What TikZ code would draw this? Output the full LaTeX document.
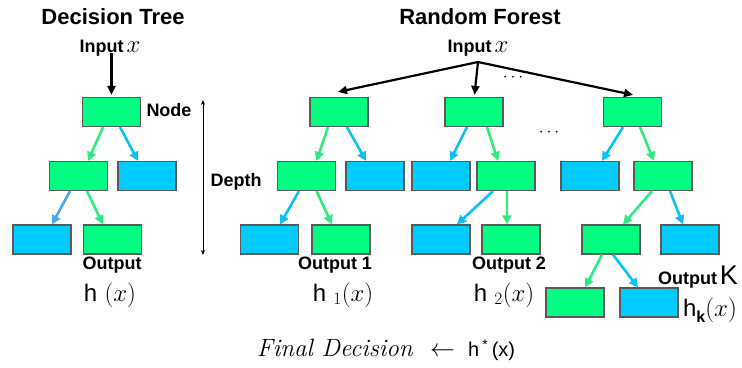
\documentclass[tikz,border=0pt]{standalone}
\usepackage{fontspec}
\setsansfont{Liberation Sans}
\usepackage{tikz}
\usetikzlibrary{arrows.meta,calc}
\definecolor{leafgreen}{HTML}{00FF80}
\definecolor{leafblue}{HTML}{00CCFF}
\definecolor{edgegreen}{HTML}{2EEB7E}
\definecolor{edgeblue}{HTML}{0AC0F5}
\definecolor{edgesky}{HTML}{4DA8F0}
\definecolor{boxline}{HTML}{5A5A5A}
\tikzset{
  gbox/.style={draw=boxline,fill=leafgreen,line width=1.2pt,minimum width=58pt,minimum height=29pt,inner sep=0pt},
  bbox/.style={gbox,fill=leafblue},
  gedge/.style={edgegreen,line width=2.6pt,-{Triangle[length=9pt,width=9pt]}},
  bedge/.style={gedge,edgeblue},
  sedge/.style={gedge,edgesky},
  kedge/.style={black,line width=2.2pt,-{Triangle[length=9pt,width=8pt]}},
  lbl/.style={font=\fontsize{18}{20}\selectfont\sffamily\bfseries,inner sep=1pt},
  hlbl/.style={font=\fontsize{24}{28}\selectfont,inner sep=1pt},
  ttl/.style={font=\fontsize{22}{26}\selectfont\sffamily\bfseries},
}

\begin{document}
\begin{tikzpicture}[x=1pt,y=-1pt]
  \useasboundingbox (0,0) rectangle (742,367);
  % titles and inputs
  \node[ttl] (dttitle) at (113,17) {Decision Tree};
  \node[ttl] (rftitle) at (480,17) {Random Forest};
  \node[lbl] (dtin) at (110,48) {Input\,{\fontsize{24}{26}\selectfont$x$}};
  \node[lbl] (rfin) at (478,48) {Input\,{\fontsize{24}{26}\selectfont$x$}};
  \coordinate (fork) at (478,62);

  % decision tree
  \node[gbox] (d0) at (111.5,112) {};
  \node[gbox] (d1) at (78.5,176) {};
  \node[bbox] (d2) at (147,176) {};
  \node[bbox] (d3) at (42,239.5) {};
  \node[gbox] (d4) at (112.5,239.5) {};
  \draw[kedge] ([yshift=4pt]dtin.south -| d0.north) -- ([yshift=2pt]d0.north);
  \draw[gedge] ([xshift=-8.5pt]d0.south) -- ([xshift=9.5pt]d1.north);
  \draw[bedge] ([xshift=8.5pt]d0.south) -- ([xshift=-9pt]d2.north);
  \draw[sedge] ([xshift=-8.5pt]d1.south) -- ([xshift=10pt]d3.north);
  \draw[gedge] ([xshift=8.5pt]d1.south) -- ([xshift=-9.5pt]d4.north);
  \node[lbl] (nodelbl) at (169,110) {Node};
  \coordinate (dtop) at (203,100);
  \coordinate (dbot) at (203,255);
  \draw[{Stealth[length=5pt,width=4pt]}-{Stealth[length=5pt,width=4pt]},line width=0.8pt] (dtop) -- (dbot);
  \node[lbl] (depth) at (236,182) {Depth};
  \node[lbl] (dtout) at (112,265) {Output};
  \node[hlbl] (dth) at (110,295) {{\sffamily h} $(x)$};

  % tree 1
  \node[gbox] (a0) at (339,112) {};
  \node[gbox] (a1) at (306.5,176) {};
  \node[bbox] (a2) at (375,176) {};
  \node[bbox] (a3) at (269.5,239.5) {};
  \node[gbox] (a4) at (341,239.5) {};
  \draw[gedge] ([xshift=-11pt]a0.south) -- ([xshift=10pt]a1.north);
  \draw[bedge] ([xshift=8pt]a0.south) -- ([xshift=-9pt]a2.north);
  \draw[bedge] ([xshift=-7.5pt]a1.south) -- ([xshift=10.5pt]a3.north);
  \draw[gedge] ([xshift=10pt]a1.south) -- ([xshift=-9pt]a4.north);
  \node[lbl] (out1) at (335,265) {Output 1};
  \node[hlbl] (h1) at (343,295) {{\sffamily h} ${}_1(x)$};

  % tree 2
  \node[gbox] (b0) at (474,112) {};
  \node[bbox] (b1) at (441,176) {};
  \node[gbox] (b2) at (506,176) {};
  \node[bbox] (b3) at (441,239.5) {};
  \node[gbox] (b4) at (511,239.5) {};
  \draw[bedge] ([xshift=-7pt]b0.south) -- ([xshift=9pt]b1.north);
  \draw[gedge] ([xshift=13pt]b0.south) -- ([xshift=-8pt]b2.north);
  \draw[bedge] ([xshift=-13pt]b2.south) -- ([xshift=16pt]b3.north);
  \draw[gedge] ([xshift=1pt]b2.south) -- ([xshift=-4pt]b4.north);
  \node[lbl] (out2) at (509,265) {Output 2};
  \node[hlbl] (h2) at (504,295) {{\sffamily h} ${}_2(x)$};

  % tree K
  \node[gbox] (k0) at (632.5,112) {};
  \node[bbox] (k1) at (590,176) {};
  \node[gbox] (k2) at (663,176) {};
  \node[gbox] (k3) at (611,239.5) {};
  \node[bbox] (k4) at (690,239.5) {};
  \node[gbox] (k5) at (575,302.5) {};
  \node[bbox] (k6) at (649,302.5) {};
  \draw[bedge] ([xshift=-9.5pt]k0.south) -- ([xshift=12pt]k1.north);
  \draw[gedge] ([xshift=7.5pt]k0.south) -- ([xshift=-9pt]k2.north);
  \draw[gedge] ([xshift=-11pt]k2.south) -- ([xshift=12pt]k3.north);
  \draw[bedge] ([xshift=7pt]k2.south) -- ([xshift=-7pt]k4.north);
  \draw[gedge] ([xshift=-9pt]k3.south) -- ([xshift=10pt]k5.north);
  \draw[bedge] ([xshift=2pt]k3.south) -- ([xshift=-11pt]k6.north);
  \node[lbl] (outk) at (698,277) {Output\,{\mdseries\fontsize{27}{28}\selectfont K}};
  \node[hlbl] (hk) at (710,310) {{\sffamily h\raisebox{-6pt}{\fontsize{16}{16}\selectfont\bfseries k}}$(x)$};

  % forest inputs
  \draw[kedge] (fork) -- ([xshift=-1pt,yshift=5pt]a0.north);
  \draw[kedge] (fork) -- ([xshift=0.5pt,yshift=2pt]b0.north);
  \draw[kedge] (fork) -- ([xshift=0.5pt,yshift=2pt]k0.north);
  \node[font=\fontsize{16}{16}\selectfont] (dots1) at (513,78) {$\cdots$};
  \node[font=\fontsize{16}{16}\selectfont] (dots2) at (549,133) {$\cdots$};

  \node (final) at (386,350) {{\fontsize{25}{30}\selectfont\textit{Final Decision}}\hspace{17pt}{\fontsize{24}{26}\selectfont$\leftarrow$}\hspace{13pt}{\sffamily\fontsize{20}{24}\selectfont h\,\textsuperscript{*}\,(x)}};
\end{tikzpicture}
\end{document}
